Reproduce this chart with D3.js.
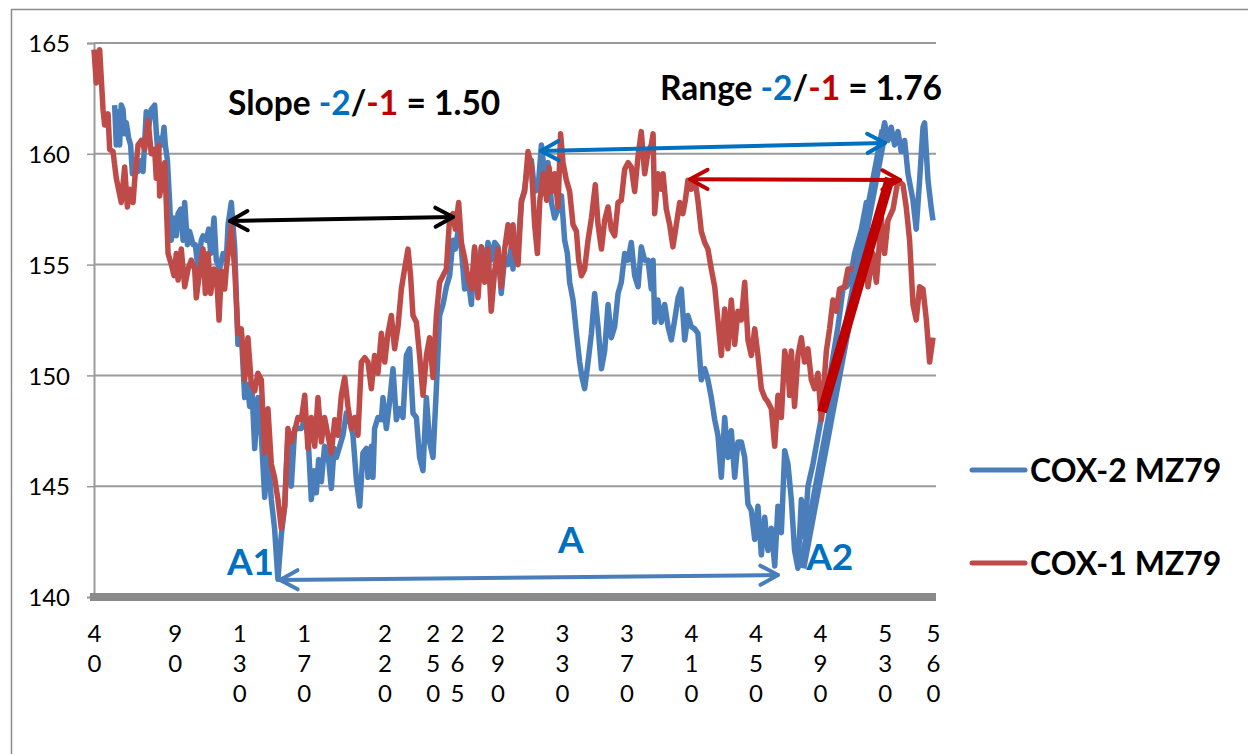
<!DOCTYPE html>
<html><head><meta charset="utf-8">
<script src="https://cdn.jsdelivr.net/npm/d3@7/dist/d3.min.js"></script>
<style>
html,body{margin:0;padding:0;background:#fff;}
svg{display:block;}
text{font-family:Lato,"Open Sans",sans-serif;}
</style></head>
<body>
<svg id="chart" width="1248" height="754"></svg>
<script>
// ---- data ----
const xTicks = [40, 90, 130, 170, 220, 250, 265, 290, 330, 370, 410, 450, 490, 530, 560];
const yTicks = [140, 145, 150, 155, 160, 165];

const cox2X = [52.8,53.8,54.9,55.9,56.9,58.0,59.0,60.0,61.5,62.7,63.8,65.2,67.3,69.3,70.4,72.4,73.5,75.5,77.6,78.6,79.7,80.7,82.1,83.4,84.2,85.5,86.9,87.9,89.6,91.0,92.1,93.7,95.2,96.2,97.9,99.3,101.4,102.8,104.5,106.5,107.6,109.6,111.1,112.3,114.4,115.8,117.9,120.0,122.0,123.1,125.1,
127.2,129.2,131.3,133.4,135.0,136.5,137.9,139.6,141.6,143.7,145.8,147.8,149.9,151.9,154.0,156.1,158.2,160.2,162.3,164.4,166.4,168.5,170.6,172.6,174.7,176.3,177.8,179.2,180.9,182.9,185.0,187.1,188.8,190.2,192.3,194.3,196.4,198.5,200.5,202.6,204.7,206.7,208.8,
209.8,211.9,212.9,213.9,216.0,218.1,219.1,221.2,223.2,225.3,227.4,229.4,231.5,233.6,235.6,237.7,239.8,241.8,243.9,246.0,248.0,250.1,252.2,254.2,256.3,258.4,260.4,262.5,263.9,265.6,267.7,269.7,271.8,273.9,275.9,278.0,280.1,282.1,284.2,286.2,288.3,290.4,292.4,294.5,
296.6,298.7,299.7,300.7,302.8,304.9,306.9,309.0,311.1,313.1,315.2,317.3,319.3,321.4,323.5,325.5,327.6,329.7,331.7,333.4,334.8,336.9,339.0,341.0,342.5,344.1,346.2,348.3,350.3,352.4,354.5,356.5,358.6,360.6,362.7,364.8,366.8,368.9,371.0,373.0,375.1,377.2,379.2,381.3,
383.4,385.4,386.5,387.5,389.5,391.6,393.7,395.8,397.8,399.9,402.0,404.0,406.1,408.1,410.2,412.3,414.3,416.4,418.5,420.5,422.6,424.7,426.7,428.8,430.9,432.9,435.0,437.1,439.1,441.2,443.3,445.3,447.4,449.5,451.5,453.6,455.7,457.7,459.8,461.9,463.9,466.0,468.1,470.1,
472.2,474.2,476.3,478.4,480.4,482.5,485.6,490.8,495.9,501.1,504.2,506.3,508.3,511.4,515.6,518.7,520.7,522.8,525.9,529.0,530.0,532.1,534.1,536.2,538.3,540.3,542.4,544.5,547.6,549.6,551.7,553.8,554.8,556.9,559.0,560.0];
const cox2Y = [162.2,160.4,161.9,160.4,162.2,162.0,160.9,161.4,160.7,160.4,159.1,159.6,159.2,159.7,159.2,161.9,161.0,162.0,162.2,161.0,159.9,160.7,160.4,161.2,160.4,159.7,157.8,156.1,157.1,156.3,157.3,157.5,156.1,157.8,155.9,156.5,155.9,155.9,154.8,156.1,156.3,156.1,156.6,155.5,157.1,155.2,154.8,155.5,155.2,156.8,157.8,
155.8,151.4,151.9,149.0,149.6,148.6,149.4,146.7,149.0,147.3,144.5,146.5,144.4,143.1,140.8,142.8,144.1,147.3,145.0,147.6,147.6,147.6,148.0,147.3,144.4,145.7,144.7,146.2,145.2,146.8,146.5,144.9,146.7,146.3,146.8,147.3,148.3,148.0,147.3,145.3,144.1,146.5,146.7,
145.4,146.8,145.4,147.6,148.1,148.0,149.0,147.6,148.8,150.3,148.0,148.5,148.1,150.9,151.2,148.3,148.1,146.3,145.7,149.0,147.0,146.3,149.4,152.7,153.2,154.0,154.5,156.1,155.7,156.5,155.7,153.9,154.4,153.2,155.7,154.0,155.8,154.8,156.0,155.2,156.0,155.8,153.7,155.3,
155.0,155.8,154.8,156.1,155.8,157.8,158.4,159.6,159.7,158.3,158.4,160.4,159.1,159.6,157.8,157.1,157.5,158.1,156.1,155.5,154.2,153.4,151.9,150.6,149.9,149.4,150.6,151.9,153.7,152.2,150.3,151.1,153.2,151.7,152.2,153.7,154.2,155.5,155.2,156.0,154.5,154.0,155.8,155.2,
155.2,153.9,155.2,152.4,153.4,152.4,153.2,152.2,151.6,152.5,153.5,153.9,151.6,152.7,152.2,152.1,151.9,149.8,150.3,149.8,149.0,148.0,147.3,145.4,148.1,146.3,147.5,145.4,147.0,147.0,146.3,144.2,143.9,142.6,144.1,141.9,143.6,142.1,143.1,141.4,144.1,142.9,146.6,146.0,
144.4,142.1,141.3,144.4,142.7,145.0,146.0,148.1,149.9,152.2,153.9,154.0,154.2,155.5,156.6,157.8,157.6,158.8,159.9,161.0,161.4,160.6,161.2,160.4,161.0,160.1,160.6,159.1,157.9,156.6,158.8,161.2,161.4,158.8,157.5,157.0];

const cox1X = [40.0,41.4,43.5,45.6,46.6,48.7,49.7,51.8,53.8,56.9,59.0,60.7,62.1,64.2,65.2,67.3,69.3,71.4,73.5,75.5,77.6,78.6,80.1,80.7,82.1,83.8,84.8,85.9,87.9,89.6,91.0,92.1,94.1,96.2,98.3,100.3,102.4,103.4,105.5,107.6,109.0,110.7,112.3,114.4,115.8,117.5,118.9,121.0,122.0,123.1,125.1,
127.2,129.2,131.3,133.4,135.4,137.5,139.6,141.6,143.7,145.8,147.8,149.9,151.9,154.0,156.1,158.2,160.2,162.3,164.4,166.4,168.5,170.6,172.6,174.7,176.8,178.8,180.9,182.9,185.0,187.1,189.2,191.2,193.3,195.4,197.4,199.5,201.6,203.6,205.7,207.8,
209.8,211.9,213.9,216.0,218.1,220.2,222.2,224.3,226.3,228.4,230.5,232.5,234.6,236.2,237.7,239.8,241.8,243.9,246.0,248.0,250.1,252.2,254.2,256.3,258.4,260.4,262.5,263.9,266.0,267.7,269.7,271.8,273.9,275.9,278.0,280.1,282.1,284.2,286.2,288.3,290.4,292.4,294.5,
296.6,298.7,299.7,300.7,302.8,304.9,306.9,309.0,311.1,313.1,314.8,316.3,318.4,320.6,322.0,323.7,325.5,327.6,329.2,330.7,332.8,334.8,336.9,339.0,340.4,342.1,344.1,346.2,348.3,350.7,352.4,354.5,356.5,358.6,360.6,362.7,364.8,366.8,368.9,371.0,373.0,375.1,377.2,379.2,381.3,
383.4,385.4,386.5,387.5,389.5,391.6,392.7,394.7,396.8,398.8,400.9,403.0,405.0,406.5,408.1,410.2,412.3,414.3,416.4,418.5,420.5,422.6,424.7,426.7,428.8,430.9,432.9,435.0,437.1,439.1,441.2,443.3,445.3,447.4,449.5,451.5,453.6,455.7,457.7,459.8,461.9,463.9,466.0,468.1,470.1,
471.1,472.2,474.2,476.3,478.4,480.4,482.5,484.6,486.6,488.7,490.8,493.9,495.9,498.0,500.1,502.1,505.2,507.3,511.4,514.5,517.6,519.7,522.8,524.9,528.0,530.0,532.1,535.2,538.3,541.4,543.4,545.5,547.6,549.6,551.7,553.8,555.9,557.9,560.0];
const cox1Y = [164.7,163.2,164.7,162.0,161.3,161.8,160.2,160.1,158.9,157.8,159.4,157.6,158.4,157.8,158.8,160.4,160.6,160.2,161.5,160.0,160.2,158.9,160.4,158.1,158.8,159.6,157.8,155.5,155.0,154.5,155.5,154.3,155.7,154.0,154.8,155.2,154.8,153.5,154.7,155.7,153.7,155.5,153.7,154.8,154.7,152.5,154.7,153.9,154.8,155.5,156.7,
154.8,151.9,152.1,149.8,151.7,149.6,149.3,150.1,149.8,146.5,148.5,146.0,145.4,144.4,143.1,144.1,147.6,147.0,147.5,148.1,148.0,149.1,146.7,148.1,146.8,149.0,147.0,148.1,147.3,146.5,148.0,147.3,149.1,149.9,148.6,147.6,148.1,147.3,150.6,150.8,
150.6,149.4,150.9,150.1,151.9,150.6,151.9,152.7,151.2,152.2,153.9,154.8,155.7,154.5,152.7,152.4,150.9,149.1,150.9,151.7,149.9,152.7,154.2,154.5,154.8,157.1,157.3,156.6,157.8,156.0,155.3,154.4,153.9,155.8,153.5,155.8,154.2,155.7,152.9,154.7,155.7,154.0,155.7,
156.8,155.8,156.8,155.5,155.0,157.9,158.3,160.1,159.4,156.8,155.5,157.9,159.1,157.9,159.4,158.3,159.1,157.6,160.9,159.6,158.8,158.3,156.8,156.5,155.2,154.5,154.8,156.1,157.1,158.6,156.8,155.7,157.0,157.6,156.6,156.3,157.8,157.9,159.3,159.6,159.4,158.3,159.9,161.0,159.1,
160.1,160.4,160.9,157.3,159.1,158.4,159.1,157.5,156.8,155.8,156.8,157.8,157.3,157.9,158.8,158.4,158.9,157.9,156.5,156.0,155.7,154.8,154.0,152.5,150.9,153.0,151.2,153.4,151.4,152.9,152.5,154.2,151.6,150.9,152.1,150.9,149.4,149.0,148.8,148.5,146.8,149.1,148.1,151.1,150.4,
149.1,151.1,148.6,150.9,151.7,150.6,151.2,149.8,149.4,150.1,148.0,151.1,152.1,153.4,152.9,153.9,154.0,154.8,154.8,155.5,156.1,154.0,155.5,154.2,157.1,155.5,157.0,157.5,158.8,158.6,157.6,156.1,153.2,152.5,154.0,153.9,152.5,150.6,151.7];

const seriesNames = ["COX-2 MZ79", "COX-1 MZ79"];

// annotation endpoints, in data units [x, y]
const slopeArrow = [[124.3, 156.97], [262.5, 157.15]];
const blueRangeArrow = [[317.0, 160.13], [530.2, 160.49]];
const redRangeArrow = [[409.4, 158.85], [539.5, 158.82]];
const aArrow = [[155.3, 140.77], [463.9, 140.99]];
const blueSlopeLine = [[478.8, 141.3], [529.6, 161.07]];
const redSlopeLine = [[491.2, 148.35], [533.3, 158.9]];
const pointLabels = [["A1", 137.0, 141.0], ["A", 335.6, 142.0], ["A2", 496.0, 141.2]];

// ---- drawing ----
const BLUE = "#4A7EBB", RED = "#BE4B48", ABLUE = "#0070C0", ARED = "#C00000";
const svg = d3.select("#chart");
const x = d3.scaleLinear().domain([40, 560]).range([94, 933]);
const y = d3.scaleLinear().domain([140, 165]).range([597, 43]);

// outer frame
svg.append("rect").attr("x", 11.5).attr("y", 9.5).attr("width", 1260).attr("height", 800)
  .attr("fill", "none").attr("stroke", "#8c8c8c").attr("stroke-width", 1.5);

// gridlines
svg.append("g").selectAll("line").data(yTicks.filter(d => d > 140)).join("line")
  .attr("x1", x(40)).attr("x2", 936).attr("y1", d => y(d)).attr("y2", d => y(d))
  .attr("stroke", "#9a9a9a").attr("stroke-width", 2);

// y axis
const yAxis = d3.axisLeft(y).tickValues(yTicks).tickSize(7).tickPadding(17).tickFormat(d3.format("d"));
const gy = svg.append("g").attr("transform", `translate(${x(40)},0)`).call(yAxis);
gy.select(".domain").attr("stroke", "#9a9a9a").attr("stroke-width", 2);
gy.selectAll(".tick line").attr("stroke", "#9a9a9a").attr("stroke-width", 1.5);
gy.selectAll(".tick text").attr("font-size", 24).attr("fill", "#000").attr("font-family", "Lato, 'Open Sans', sans-serif")
  .attr("dy", "0.36em");

// x axis (thick bar) + stacked digit labels
const xAxis = d3.axisBottom(x).tickValues(xTicks).tickSize(0).tickFormat("");
const gx = svg.append("g").attr("transform", `translate(0,${y(140)})`).call(xAxis);
gx.select(".domain").remove();
gx.append("line").attr("x1", x(40) - 4).attr("x2", 936).attr("y1", 0).attr("y2", 0)
  .attr("stroke", "#8a8a8a").attr("stroke-width", 8);
gx.selectAll(".tick").each(function(d) {
  const t = d3.select(this).append("text").attr("fill", "#000").attr("font-size", 24)
    .attr("text-anchor", "middle").attr("font-family", "Lato, 'Open Sans', sans-serif");
  String(d).split("").forEach((c, i) => {
    t.append("tspan").attr("x", 0).attr("y", 45 + i * 30).text(c);
  });
});

// series
const line = d3.line().x(d => x(d[0])).y(d => y(d[1]));
const blueData = cox2X.map((v, i) => [v, cox2Y[i]]);
const redData = cox1X.map((v, i) => [v, cox1Y[i]]);
svg.append("path").datum(blueData).attr("d", line).attr("fill", "none")
  .attr("stroke", BLUE).attr("stroke-width", 5.5).attr("stroke-linejoin", "round");
svg.append("path").datum(redData).attr("d", line).attr("fill", "none")
  .attr("stroke", RED).attr("stroke-width", 5.5).attr("stroke-linejoin", "round");

// thick slope lines
function seg(pts, color, w) {
  svg.append("line").attr("x1", x(pts[0][0])).attr("y1", y(pts[0][1]))
    .attr("x2", x(pts[1][0])).attr("y2", y(pts[1][1]))
    .attr("stroke", color).attr("stroke-width", w);
}
seg(blueSlopeLine, BLUE, 9);
seg(redSlopeLine, ARED, 10);

// double arrows with open heads
function dblArrow(pts, color, w) {
  const x1 = x(pts[0][0]), y1 = y(pts[0][1]), x2 = x(pts[1][0]), y2 = y(pts[1][1]);
  const g = svg.append("g").attr("stroke", color).attr("stroke-width", w).attr("fill", "none")
    .attr("stroke-linecap", "round").attr("stroke-linejoin", "round");
  g.append("line").attr("x1", x1).attr("y1", y1).attr("x2", x2).attr("y2", y2);
  const ang = Math.atan2(y2 - y1, x2 - x1), L = 20, a = 0.5;
  const head = (px, py, dir) => {
    const p1 = [px - dir * L * Math.cos(ang - a), py - dir * L * Math.sin(ang - a)];
    const p2 = [px - dir * L * Math.cos(ang + a), py - dir * L * Math.sin(ang + a)];
    g.append("path").attr("d", `M${p1[0]},${p1[1]}L${px},${py}L${p2[0]},${p2[1]}`);
  };
  head(x2, y2, 1);
  head(x1, y1, -1);
}
dblArrow(slopeArrow, "#000", 4);
dblArrow(blueRangeArrow, ABLUE, 4);
dblArrow(redRangeArrow, ARED, 4);
dblArrow(aArrow, BLUE, 4);

// point labels
svg.append("g").selectAll("text").data(pointLabels).join("text")
  .attr("x", d => x(d[1])).attr("y", d => y(d[2])).attr("text-anchor", "middle")
  .attr("font-size", 37).attr("font-weight", 700).attr("fill", ABLUE).text(d => d[0]);

// titles
function ratioTitle(tx, ty, word, val) {
  const t = svg.append("text").attr("x", tx).attr("y", ty).attr("font-size", 33.5).attr("font-weight", 700).attr("fill", "#000");
  t.append("tspan").text(word + " ");
  t.append("tspan").attr("fill", ABLUE).text("-2");
  t.append("tspan").text("/");
  t.append("tspan").attr("fill", ARED).text("-1");
  t.append("tspan").text(" = " + val);
}
ratioTitle(228, 115, "Slope", "1.50");
ratioTitle(660, 100, "Range", "1.76");

// legend
const lg = svg.append("g");
[[seriesNames[0], BLUE, 470], [seriesNames[1], RED, 563]].forEach(([name, c, ly]) => {
  lg.append("line").attr("x1", 972).attr("x2", 1025).attr("y1", ly).attr("y2", ly)
    .attr("stroke", c).attr("stroke-width", 5).attr("stroke-linecap", "round");
  lg.append("text").attr("x", 1030).attr("y", ly + 12).attr("font-size", 32).attr("font-weight", 700)
    .attr("fill", "#000").text(name);
});
</script>
</body></html>
